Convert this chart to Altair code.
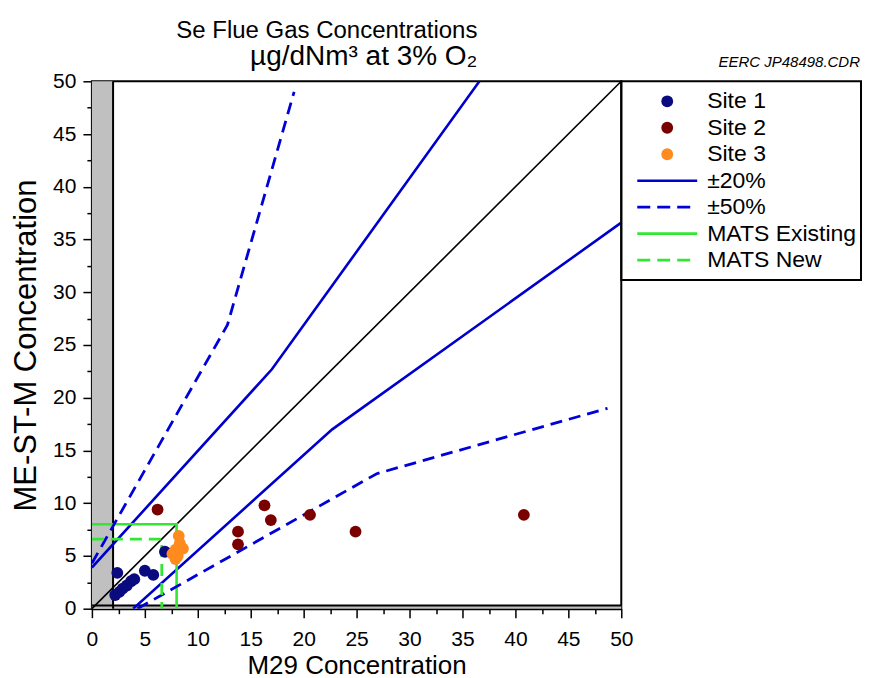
import altair as alt
import pandas as pd

# ---------------- data ----------------
site1_x = [2.4, 2.2, 2.6, 2.9, 3.3, 3.7, 4.0, 5.0, 5.8, 6.9]
site1_y = [3.4, 1.3, 1.6, 1.9, 2.2, 2.6, 2.8, 3.6, 3.2, 5.4]
site2_x = [6.2, 13.8, 13.8, 16.3, 16.9, 20.6, 24.9, 40.8]
site2_y = [9.4, 7.3, 6.1, 9.8, 8.4, 8.9, 7.3, 8.9]
site3_x = [8.2, 8.3, 7.9, 8.6, 7.6, 7.9, 8.1]
site3_y = [6.9, 6.2, 5.6, 5.7, 5.2, 4.7, 5.0]

pm20_upper_x = [0.0, 17.0, 36.6]
pm20_upper_y = [3.9, 22.7, 50.0]
pm20_lower_x = [3.9, 22.7, 50.0]
pm20_lower_y = [0.0, 17.0, 36.6]
pm50_upper_x = [0.0, 12.8, 19.1]
pm50_upper_y = [4.3, 26.9, 49.0]
pm50_lower_x = [4.3, 26.9, 48.7]
pm50_lower_y = [0.0, 12.8, 19.0]
mats_existing_x = [0.0, 8.0, 8.0]
mats_existing_y = [8.0, 8.0, 0.0]
mats_new_x = [0.0, 6.6, 6.6]
mats_new_y = [6.6, 6.6, 0.0]
one_to_one_x = [0.0, 50.0]
one_to_one_y = [0.0, 50.0]
detect_limit_x = 2.0
detect_limit_y = 0.3
axis_max = 50.0

series_names = ["Site 1", "Site 2", "Site 3", "±20%", "±50%", "MATS Existing", "MATS New"]
series_kinds = ["site", "site", "site", "solid", "dash", "solid", "dash"]
series_colors = ["#0b0b80", "#7a0000", "#ff8a1e", "#0000cc", "#0000d8", "#33e633", "#33e633"]

tick_values = [i * 2.5 for i in range(21)]
title_line1 = "Se Flue Gas Concentrations"
title_line2 = "µg/dNm³ at 3% O₂"
x_title = "M29 Concentration"
y_title = "ME-ST-M Concentration"
credit_text = ["EERC JP48498.CDR"]

FONT = "Liberation Sans"
W, H = 530, 528
LW, LH = 240, 199

# ---------------- tables ----------------
pts = []
for name, xs, ys in [("Site 1", site1_x, site1_y), ("Site 2", site2_x, site2_y), ("Site 3", site3_x, site3_y)]:
    for a, b in zip(xs, ys):
        pts.append({"x": a, "y": b, "series": name})
points_df = pd.DataFrame(pts)

rows = []
for name, seg, style, xs, ys in [
    ("±20%", "p20u", "solid", pm20_upper_x, pm20_upper_y),
    ("±20%", "p20l", "solid", pm20_lower_x, pm20_lower_y),
    ("±50%", "p50u", "dash", pm50_upper_x, pm50_upper_y),
    ("±50%", "p50l", "dash", pm50_lower_x, pm50_lower_y),
    ("MATS Existing", "me", "solid", mats_existing_x, mats_existing_y),
    ("MATS New", "mn", "dash", mats_new_x, mats_new_y),
]:
    for i, (a, b) in enumerate(zip(xs, ys)):
        rows.append({"x": a, "y": b, "series": name, "seg": seg, "ord": i, "style": style})
lines_df = pd.DataFrame(rows)
solid_df = lines_df[lines_df["style"] == "solid"]
dash_df = lines_df[lines_df["style"] == "dash"]

diag_df = pd.DataFrame({"x": one_to_one_x, "y": one_to_one_y})
bands_df = pd.DataFrame({
    "x0": [0.0, 0.0], "x1": [detect_limit_x, axis_max],
    "y0": [0.0, 0.0], "y1": [axis_max, detect_limit_y],
})
vrule_df = pd.DataFrame({"x0": [detect_limit_x], "y0": [0.0], "y1": [axis_max]})
hrule_df = pd.DataFrame({"y0": [detect_limit_y], "x0": [0.0], "x1": [axis_max]})
legend_df = pd.DataFrame({"series": series_names, "kind": series_kinds})
credit_df = pd.DataFrame({"t": credit_text})

# ---------------- scales / axes ----------------
xscale = alt.Scale(domain=[0, axis_max], nice=False, zero=False)
yscale = alt.Scale(domain=[0, axis_max], nice=False, zero=False)
color_scale = alt.Scale(domain=series_names, range=series_colors)

major_minor = {"condition": {"test": "datum.value % 5 === 0", "value": 9}, "value": 5}

xaxis = alt.Axis(
    values=tick_values, grid=False, labelExpr="datum.value % 5 === 0 ? datum.label : ''",
    labelOverlap=False, labelFlush=False, tickSize=major_minor, labelPadding=11,
    labelFontSize=21, titleFontSize=26, titlePadding=3, titleFontWeight="normal",
)
yaxis = alt.Axis(
    values=tick_values, grid=False, labelExpr="datum.value % 5 === 0 ? datum.label : ''",
    labelOverlap=False, labelFlush=False, tickSize=major_minor, labelPadding=7,
    labelFontSize=21, titleFontSize=31, titlePadding=17, titleFontWeight="normal",
    titleBaseline="alphabetic",
)


def X(field):
    return alt.X(field, type="quantitative", scale=xscale, axis=xaxis, title=x_title)


def Y(field):
    return alt.Y(field, type="quantitative", scale=yscale, axis=yaxis, title=y_title)


color_enc = alt.Color("series:N", scale=color_scale, legend=None)

# ---------------- main plot layers ----------------
bands = alt.Chart(bands_df).mark_rect(color="#c0c0c0").encode(
    x=X("x0"), x2="x1:Q", y=Y("y0"), y2="y1:Q")
vrule = alt.Chart(vrule_df).mark_rule(color="black", strokeWidth=2).encode(
    x=X("x0"), y=Y("y0"), y2="y1:Q")
hrule = alt.Chart(hrule_df).mark_rule(color="black", strokeWidth=2).encode(
    y=Y("y0"), x=X("x0"), x2="x1:Q")
diag = alt.Chart(diag_df).mark_line(color="black", strokeWidth=1.6).encode(
    x=X("x"), y=Y("y"))
solid = alt.Chart(solid_df).mark_line(strokeWidth=2.6, clip=True).encode(
    x=X("x"), y=Y("y"), color=color_enc, detail="seg:N", order="ord:Q")
dashed = alt.Chart(dash_df).mark_line(strokeWidth=2.8, strokeDash=[12, 7], clip=True).encode(
    x=X("x"), y=Y("y"), color=color_enc, detail="seg:N", order="ord:Q")
points = alt.Chart(points_df).mark_circle(size=140, opacity=1).encode(
    x=X("x"), y=Y("y"), color=color_enc)

main = alt.layer(bands, vrule, hrule, diag, solid, dashed, points).properties(
    width=W, height=H,
    title=alt.TitleParams(
        text=title_line1, subtitle=title_line2, anchor="middle", align="right", dx=121,
        fontSize=24, font=FONT, fontWeight="normal", color="black",
        subtitleFontSize=28, subtitleFont=FONT, subtitleColor="black", subtitlePadding=0,
        offset=-1),
)

# ---------------- legend panel ----------------
leg_y = alt.Y("series:N", scale=alt.Scale(type="point", domain=series_names, padding=0.755), axis=None)
leg_base = alt.Chart(legend_df)
leg_pts = leg_base.transform_filter("datum.kind === 'site'").mark_circle(size=140, opacity=1).encode(
    x=alt.value(46), y=leg_y, color=color_enc)
leg_solid = leg_base.transform_filter("datum.kind === 'solid'").mark_rule(strokeWidth=2.6).encode(
    x=alt.value(16), x2=alt.value(76), y=leg_y, color=color_enc)
leg_dash = leg_base.transform_filter("datum.kind === 'dash'").mark_rule(strokeWidth=2.8, strokeDash=[13, 7]).encode(
    x=alt.value(16), x2=alt.value(76), y=leg_y, color=color_enc)
leg_text = leg_base.mark_text(align="left", baseline="middle", font=FONT, fontSize=23, color="black").encode(
    x=alt.value(86), y=leg_y, text="series:N")
credit = alt.Chart(credit_df).mark_text(
    align="right", baseline="alphabetic", font=FONT, fontSize=15, fontStyle="italic", color="black"
).encode(text="t:N", x=alt.value(LW - 1), y=alt.value(-14))

legend_panel = alt.layer(leg_pts, leg_solid, leg_dash, leg_text, credit).properties(width=LW, height=LH)

chart = alt.hconcat(main, legend_panel, spacing=0, bounds="flush").properties(
    padding={"left": 1, "top": 10, "right": 0, "bottom": 0},
).configure(font=FONT).configure_view(
    stroke="black", strokeWidth=2
).configure_axis(
    domainColor="black", domainWidth=2, tickColor="black", tickWidth=1.5,
    labelColor="black", titleColor="black", labelFont=FONT, titleFont=FONT,
)

chart.save("out.html", embed_options={"renderer": "svg", "actions": False})
